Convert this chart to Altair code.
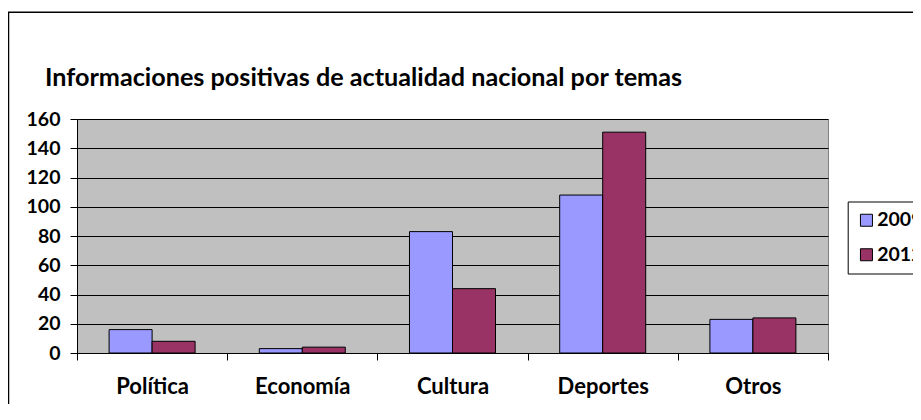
import altair as alt
import pandas as pd

# ---- data ----
categorias = ["Política", "Economía", "Cultura", "Deportes", "Otros"]
anios = ["2009", "2012"]
valores_2009 = [16, 3, 83, 108, 23]
valores_2012 = [8, 4, 44, 151, 24]
ticks_y = [0, 20, 40, 60, 80, 100, 120, 140, 160]
titulo = "Informaciones positivas de actualidad nacional por temas"
colores = ["#9999FF", "#993366"]

rows = []
for c, a, b in zip(categorias, valores_2009, valores_2012):
    rows.append({"tema": c, "anio": anios[0], "valor": a})
    rows.append({"tema": c, "anio": anios[1], "valor": b})
df = pd.DataFrame(rows)

FONT = "Lato"

bars = alt.Chart(df).mark_bar(stroke="black", strokeWidth=1).encode(
    x=alt.X(
        "tema:N",
        sort=categorias,
        scale=alt.Scale(paddingInner=0, paddingOuter=0),
        axis=alt.Axis(
            title=None,
            labelAngle=0,
            tickBand="extent",
            grid=False,
            domainColor="black",
            tickColor="black",
            tickSize=7,
            labelPadding=16.5,
            labelFont=FONT,
            labelFontSize=22,
            labelFontWeight="bold",
            labelColor="black",
        ),
    ),
    xOffset=alt.XOffset(
        "anio:N", sort=anios, scale=alt.Scale(paddingInner=0, paddingOuter=0.7465)
    ),
    y=alt.Y(
        "valor:Q",
        scale=alt.Scale(domain=[0, 160], nice=False),
        axis=alt.Axis(
            title=None,
            values=ticks_y,
            grid=True,
            gridColor="black",
            gridWidth=1.2,
            domainColor="black",
            tickColor="black",
            tickSize=7,
            labelPadding=10,
            labelFont=FONT,
            labelFontSize=19.5,
            labelFontWeight="bold",
            labelColor="black",
        ),
    ),
    color=alt.Color(
        "anio:N",
        sort=anios,
        scale=alt.Scale(domain=anios, range=colores),
        legend=alt.Legend(
            title=None,
            orient="none",
            legendX=770.7,
            legendY=82.5,
            direction="vertical",
            symbolType="square",
            symbolSize=144,
            symbolStrokeColor="black",
            symbolStrokeWidth=1,
            labelFont=FONT,
            labelFontSize=19.5,
            labelFontWeight="bold",
            labelColor="black",
            labelOffset=1,
            rowPadding=13.5,
            padding=9,
            strokeColor="black",
            fillColor="white",
        ),
    ),
)

border = alt.Chart(alt.Data(values=[{"k": 1}])).mark_rect(
    fillOpacity=0, stroke="black", strokeWidth=1.5
).encode(
    x=alt.value(-68.5),
    x2=alt.value(1000),
    y=alt.value(-106.7),
    y2=alt.value(400),
)

chart = (
    alt.layer(border, bars)
    .properties(
        width=751,
        height=234,
        autosize=alt.AutoSizeParams(type="none"),
        padding={"left": 69, "top": 111, "right": 85, "bottom": 51},
        title=alt.TitleParams(
            titulo,
            anchor="start",
            frame="group",
            dx=-32,
            dy=101.5,
            offset=22,
            font=FONT,
            fontSize=25.2,
            fontWeight="bold",
            color="black",
        ),
    )
    .configure(background="white")
    .configure_view(fill="#C0C0C0", stroke="#808080", strokeWidth=1)
)

chart.save("out.html", embed_options={"renderer": "svg", "actions": False})
